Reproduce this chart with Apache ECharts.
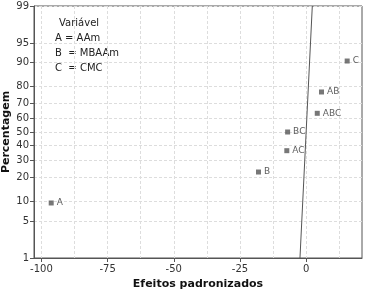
<!DOCTYPE html>
<html lang="pt">
<head>
    <meta charset="UTF-8">
    <script src="https://cdn.jsdelivr.net/npm/echarts@6/dist/echarts.min.js"></script>
    <style>
        html, body { margin: 0; padding: 0; background: #fff; }
    </style>
</head>
<body>
<div id="chart" style="width: 366px;height: 292px"></div>
<script>
    // efeitos padronizados e percentagem acumulada
    var termos = ['A', 'B', 'AC', 'BC', 'ABC', 'AB', 'C'];
    var efeitos = [-96.3, -18.0, -7.3, -7.0, 4.2, 5.8, 15.5];
    var percentagens = [9.5, 23.0, 36.5, 50.0, 63.5, 77.0, 90.5];
    // reta de referência (extremos)
    var retaX = [-2.33, 2.33];
    var retaP = [1, 99];
    var yTicks = [1, 5, 10, 20, 30, 40, 50, 60, 70, 80, 90, 95, 99];
    var xLabels = [-100, -75, -50, -25, 0];
    var xGrid = [-100, -87.5, -75, -62.5, -50, -37.5, -25, -12.5, 0, 12.5];
    var legendaLinhas = ['A = AAm', 'B  = MBAAm', 'C  = CMC'];

    // inversa da normal (Acklam)
    function invNorm(p) {
        var a = [-3.969683028665376e+01, 2.209460984245205e+02, -2.759285104469687e+02, 1.383577518672690e+02, -3.066479806614716e+01, 2.506628277459239e+00];
        var b = [-5.447609879822406e+01, 1.615858368580409e+02, -1.556989798598866e+02, 6.680131188771972e+01, -1.328068155288572e+01];
        var c = [-7.784894002430293e-03, -3.223964580411365e-01, -2.400758277161838e+00, -2.549732539343734e+00, 4.374664141464968e+00, 2.938163982698783e+00];
        var d = [7.784695709041462e-03, 3.224671290700398e-01, 2.445134137142996e+00, 3.754408661907416e+00];
        var pl = 0.02425, q, r;
        if (p < pl) {
            q = Math.sqrt(-2 * Math.log(p));
            return (((((c[0] * q + c[1]) * q + c[2]) * q + c[3]) * q + c[4]) * q + c[5]) / ((((d[0] * q + d[1]) * q + d[2]) * q + d[3]) * q + 1);
        }
        if (p > 1 - pl) {
            q = Math.sqrt(-2 * Math.log(1 - p));
            return -(((((c[0] * q + c[1]) * q + c[2]) * q + c[3]) * q + c[4]) * q + c[5]) / ((((d[0] * q + d[1]) * q + d[2]) * q + d[3]) * q + 1);
        }
        q = p - 0.5;
        r = q * q;
        return (((((a[0] * r + a[1]) * r + a[2]) * r + a[3]) * r + a[4]) * r + a[5]) * q / (((((b[0] * r + b[1]) * r + b[2]) * r + b[3]) * r + b[4]) * r + 1);
    }
    function z(pct) { return invNorm(pct / 100); }

    var yTickZ = yTicks.map(z);
    var pontos = termos.map(function (t, i) {
        return { name: t, value: [efeitos[i], z(percentagens[i])] };
    });
    var reta = retaX.map(function (x, i) { return [x, z(retaP[i])]; });

    var fonte = 'DejaVu Sans';
    var cinza = '#555';

    var chart = echarts.init(document.getElementById('chart'));
    var option = {
        animation: false,
        grid: {
            left: 34, right: 4, top: 6, bottom: 34,
            outerBoundsMode: 'none',
            containLabel: false,
            show: true, borderColor: cinza, borderWidth: 1
        },
        xAxis: [{
            type: 'value',
            min: -102.8, max: 21.1,
            name: 'Efeitos padronizados',
            nameLocation: 'middle',
            nameGap: 21,
            nameMoveOverlap: false,
            nameTextStyle: { fontFamily: fonte, fontWeight: 'bold', fontSize: 11, color: '#111' },
            axisLine: { show: true, onZero: false, lineStyle: { color: cinza } },
            axisTick: { show: true, length: 4, customValues: xLabels, lineStyle: { color: cinza } },
            axisLabel: { customValues: xLabels, fontFamily: fonte, fontSize: 10, color: '#333', margin: 6 },
            splitLine: { show: false }
        }, {
            type: 'value',
            min: -102.8, max: 21.1,
            position: 'bottom',
            axisLine: { show: false, onZero: false },
            axisTick: { show: false, customValues: xGrid },
            axisLabel: { show: false, customValues: xGrid },
            splitLine: { show: true, lineStyle: { color: '#ddd', type: [3, 2] } }
        }],
        yAxis: {
            type: 'value',
            min: z(1), max: z(99),
            name: 'Percentagem',
            nameLocation: 'middle',
            nameGap: 22,
            nameMoveOverlap: false,
            nameTextStyle: { fontFamily: fonte, fontWeight: 'bold', fontSize: 11, color: '#111' },
            axisLine: { show: true, onZero: false, lineStyle: { color: cinza } },
            axisTick: { show: true, length: 4, customValues: yTickZ, lineStyle: { color: cinza } },
            axisLabel: {
                customValues: yTickZ,
                fontFamily: fonte, fontSize: 10, color: '#333', margin: 5,
                formatter: function (v) {
                    var best = 0, dist = 1e9;
                    yTickZ.forEach(function (t, i) {
                        if (Math.abs(t - v) < dist) { dist = Math.abs(t - v); best = i; }
                    });
                    return String(yTicks[best]);
                }
            },
            splitLine: { show: true, lineStyle: { color: '#ddd', type: [3, 2] } }
        },
        graphic: [{
            type: 'text', left: 59, top: 18,
            style: { text: 'Variável', font: '10px "' + fonte + '"', fill: '#222' }
        }].concat(legendaLinhas.map(function (s, i) {
            return {
                type: 'text', left: 55, top: 33 + i * 15,
                style: { text: s, font: '10px "' + fonte + '"', fill: '#222' }
            };
        })),
        series: [{
            type: 'line',
            data: reta,
            showSymbol: false,
            lineStyle: { color: cinza, width: 1 },
            silent: true
        }, {
            type: 'scatter',
            data: pontos,
            symbol: 'rect',
            symbolSize: 5,
            itemStyle: { color: cinza },
            label: {
                show: true, position: 'right', distance: 3,
                formatter: '{b}', fontFamily: fonte, fontSize: 9, color: '#333'
            }
        }]
    };
    chart.setOption(option);
</script>
</body>
</html>
